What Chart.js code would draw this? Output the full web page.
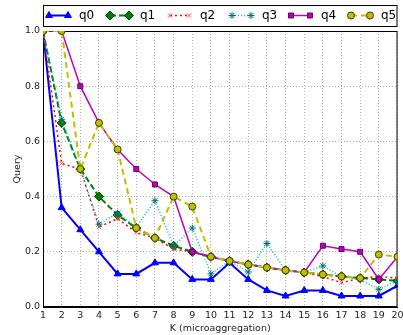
<!DOCTYPE html>
<html>
<head>
<meta charset="utf-8">
<script src="https://cdn.jsdelivr.net/npm/chart.js@4/dist/chart.umd.min.js"></script>
<style>
  html, body { margin: 0; padding: 0; background: #fff; }
  #wrap { width: 403px; height: 335px; }
</style>
</head>
<body>
<div id="wrap"><canvas id="chart" width="403" height="335"></canvas></div>
<script>
// data
const kValues = [1, 2, 3, 4, 5, 6, 7, 8, 9, 10, 11, 12, 13, 14, 15, 16, 17, 18, 19, 20];
const seriesNames = ['q0', 'q1', 'q2', 'q3', 'q4', 'q5'];
const q0 = [1.0, 0.36, 0.28, 0.2, 0.12, 0.12, 0.16, 0.16, 0.1, 0.1, 0.16, 0.1, 0.06, 0.04, 0.06, 0.06, 0.04, 0.04, 0.04, 0.077];
const q1 = [1.0, 0.667, 0.5, 0.4, 0.333, 0.286, 0.25, 0.222, 0.2, 0.182, 0.167, 0.154, 0.143, 0.133, 0.125, 0.118, 0.111, 0.105, 0.1, 0.095];
const q2 = [1.0, 0.52, 0.5, 0.29, 0.32, 0.27, 0.25, 0.21, 0.2, 0.18, 0.167, 0.154, 0.143, 0.133, 0.125, 0.11, 0.088, 0.105, 0.11, 0.105];
const q3 = [1.0, 0.68, 0.5, 0.3, 0.34, 0.29, 0.385, 0.22, 0.286, 0.12, 0.167, 0.127, 0.23, 0.133, 0.125, 0.149, 0.11, 0.1, 0.064, 0.095];
const q4 = [1.0, 1.0, 0.8, 0.667, 0.571, 0.5, 0.444, 0.4, 0.2, 0.182, 0.167, 0.154, 0.143, 0.133, 0.125, 0.222, 0.21, 0.2, 0.1, 0.182];
const q5 = [1.0, 1.0, 0.5, 0.667, 0.571, 0.286, 0.25, 0.4, 0.364, 0.182, 0.167, 0.154, 0.143, 0.133, 0.125, 0.118, 0.111, 0.105, 0.19, 0.182];
const yTicks = [0, 0.2, 0.4, 0.6, 0.8, 1.0];

const styles = [
  { color: '#0000ff', fill: '#0000ff', edge: '#0000ff', dash: [], width: 2, point: 'triangle', r: 4 },
  { color: '#007f00', fill: '#007f00', edge: '#004000', dash: [6, 3], width: 2, point: 'rectRot', r: 4.5 },
  { color: '#ff0000', fill: '#ff8080', edge: '#ff5050', dash: [2, 3], width: 1.5, point: 'crossRot', r: 3 },
  { color: '#00bfbf', fill: '#008080', edge: '#007070', dash: [1, 2], width: 1.5, point: 'star', r: 3.5 },
  { color: '#bf00bf', fill: '#bf00bf', edge: '#600060', dash: [], width: 1.5, point: 'rect', r: 3.5 },
  { color: '#bfbf00', fill: '#bfbf00', edge: '#404000', dash: [6, 4], width: 2, point: 'circle', r: 3.5 }
];

const allSeries = [q0, q1, q2, q3, q4, q5];

const datasets = allSeries.map((vals, i) => ({
  label: seriesNames[i],
  data: kValues.map((k, j) => ({ x: k, y: vals[j] })),
  borderColor: styles[i].color,
  borderWidth: styles[i].width,
  borderDash: styles[i].dash,
  pointStyle: styles[i].point,
  pointRadius: styles[i].r,
  pointBackgroundColor: styles[i].fill,
  pointBorderColor: styles[i].edge,
  pointBorderWidth: 1,
  tension: 0,
  fill: false,
  order: 5 - i
}));

// matplotlib-like framed legend above the plot
const legendBox = {
  id: 'legendBox',
  afterDraw(chart) {
    const ctx = chart.ctx;
    const area = chart.chartArea;
    const top = 5, bottom = 26;
    const cy = (top + bottom) / 2;
    ctx.save();
    ctx.strokeStyle = '#000';
    ctx.lineWidth = 1;
    ctx.strokeRect(area.left + 0.5, top + 0.5, area.right - area.left - 1, bottom - top);
    const starts = [49, 110, 170, 232, 291, 351];
    ctx.font = '12px "DejaVu Sans"';
    ctx.textBaseline = 'middle';
    starts.forEach((x0, i) => {
      const s = styles[i];
      ctx.strokeStyle = s.color;
      ctx.lineWidth = s.width;
      ctx.setLineDash(s.dash);
      ctx.beginPath();
      ctx.moveTo(x0, cy);
      ctx.lineTo(x0 + 19, cy);
      ctx.stroke();
      ctx.setLineDash([]);
      ctx.fillStyle = s.fill;
      ctx.strokeStyle = s.edge;
      ctx.lineWidth = 1;
      [x0, x0 + 19].forEach(px => {
        Chart.helpers.drawPoint(ctx, { pointStyle: s.point, radius: s.r, rotation: 0, borderWidth: 1 }, px, cy);
      });
      ctx.fillStyle = '#000';
      ctx.fillText(seriesNames[i], x0 + 30, cy);
    });
    ctx.restore();
  }
};

// plot frame drawn solid on top of the dotted grid
const frame = {
  id: 'frame',
  beforeDatasetsDraw(chart) {
    const a = chart.chartArea;
    const ctx = chart.ctx;
    ctx.save();
    ctx.setLineDash([]);
    ctx.strokeStyle = '#000';
    ctx.lineWidth = 1;
    ctx.strokeRect(a.left + 0.5, a.top + 0.5, a.right - a.left - 1, a.bottom - a.top - 1);
    ctx.restore();
  }
};

const axisFont = { family: 'DejaVu Sans', size: 9.5 };

const gridStyle = {
  color: '#b0b0b0',
  lineWidth: 1,
  drawTicks: false
};

new Chart(document.getElementById('chart'), {
  type: 'line',
  data: { datasets },
  plugins: [legendBox, frame],
  options: {
    responsive: false,
    animation: false,
    events: [],
    layout: { padding: { top: 31, right: 3, left: 0, bottom: 0 } },
    plugins: {
      legend: { display: false },
      tooltip: { enabled: false }
    },
    scales: {
      x: {
        type: 'linear',
        min: 1,
        max: 20,
        afterBuildTicks(scale) {
          scale.ticks = kValues.map(v => ({ value: v }));
        },
        afterFit(scale) {
          scale.height = 28;
          scale.paddingLeft = 0;
          scale.paddingRight = 0;
        },
        ticks: {
          color: '#222',
          font: axisFont,
          padding: 3,
          maxRotation: 0,
          autoSkip: false
        },
        grid: gridStyle,
        border: { display: true, color: '#000', width: 1, dash: [1, 2] },
        title: {
          display: true,
          text: 'K (microaggregation)',
          color: '#222',
          font: axisFont,
          padding: { top: 0, bottom: 1 }
        }
      },
      y: {
        type: 'linear',
        min: 0,
        max: 1,
        afterBuildTicks(scale) {
          scale.ticks = yTicks.map(v => ({ value: v }));
        },
        afterFit(scale) {
          scale.width = 43;
        },
        ticks: {
          color: '#222',
          font: axisFont,
          padding: 3,
          callback: v => v.toFixed(1)
        },
        grid: gridStyle,
        border: { display: true, color: '#000', width: 1, dash: [1, 2] },
        title: {
          display: true,
          text: 'Query',
          color: '#222',
          font: axisFont,
          padding: { top: 12, bottom: 4 }
        }
      }
    }
  }
});
</script>
</body>
</html>
